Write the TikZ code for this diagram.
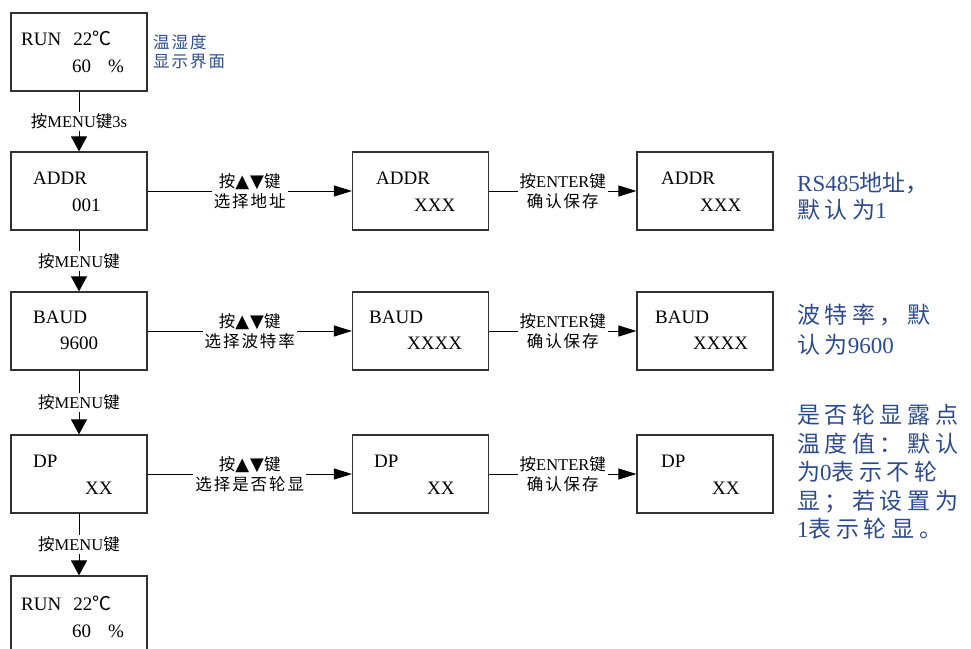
\documentclass[tikz,border=0pt]{standalone}
\usepackage{fontspec}
\setmainfont{Liberation Serif}
\newfontfamily\cjks{Noto Sans CJK SC}[LetterSpace=12]
\newfontfamily\cjkb{Noto Sans CJK SC}[LetterSpace=20]
\newfontfamily\cjkn{Noto Sans CJK SC}
\newfontfamily\symf{DejaVu Sans}
\usetikzlibrary{arrows.meta}
\definecolor{lblblue}{RGB}{45,75,140}
\definecolor{boxgray}{RGB}{50,50,50}
\newcommand\zs[1]{{\cjks #1}}
\newcommand\zb[1]{{\cjkb #1}}
\newcommand\zn[1]{{\cjkn #1}}
\newcommand\tri{{\symf\fontsize{18}{20.5}\selectfont ▲\kern1pt▼}}
\begin{document}
\begin{tikzpicture}[x=1pt,y=-1pt,
  screen/.style={draw=boxgray, line width=1.2pt, minimum width=136pt, minimum height=78pt, inner sep=0pt},
  boxtxt/.style={anchor=base west, inner sep=0pt, font=\fontsize{19}{19}\selectfont},
  flow/.style={draw=black, line width=1pt},
  downarrow/.style={-{Triangle[length=15pt,width=16pt]}},
  rarrow/.style={-{Triangle[length=18pt,width=11pt]}},
  lab/.style={fill=white, inner sep=2pt, align=center, font=\fontsize{16.5}{20.5}\selectfont},
  note/.style={anchor=base west, inner sep=0pt, text=lblblue, font=\fontsize{23}{23}\selectfont},
  smallnote/.style={anchor=base west, inner sep=0pt, text=lblblue, font=\fontsize{16.5}{16.5}\selectfont}
]
\useasboundingbox (0,0) rectangle (971,648);

% screens
\node[screen] (run1) at (79,52) {};
\node[screen] (addr1) at (79,191) {};
\node[screen] (addr2) at (420.5,191) {};
\node[screen] (addr3) at (705,191) {};
\node[screen] (baud1) at (79,331) {};
\node[screen] (baud2) at (420.5,331) {};
\node[screen] (baud3) at (705,331) {};
\node[screen] (dp1) at (79,474) {};
\node[screen] (dp2) at (420.5,474) {};
\node[screen] (dp3) at (705,474) {};
\node[screen] (run2) at (79,615) {};

% screen texts
\node[boxtxt] (t1a) at (21,45) {RUN\hspace{12pt}22\zn{℃}};
\node[boxtxt] (t1b) at (72,72) {60\hspace{17pt}\%};
\node[boxtxt] (t2a) at (33,184.5) {ADDR};
\node[boxtxt] (t2b) at (72,211) {001};
\node[boxtxt] (t3a) at (376,184.5) {ADDR};
\node[boxtxt] (t3b) at (414,211) {XXX};
\node[boxtxt] (t4a) at (661,184.5) {ADDR};
\node[boxtxt] (t4b) at (700,211) {XXX};
\node[boxtxt] (t5a) at (33,323.5) {BAUD};
\node[boxtxt] (t5b) at (60,349.5) {9600};
\node[boxtxt] (t6a) at (369,323.5) {BAUD};
\node[boxtxt] (t6b) at (407,349.5) {XXXX};
\node[boxtxt] (t7a) at (655,323.5) {BAUD};
\node[boxtxt] (t7b) at (693,349.5) {XXXX};
\node[boxtxt] (t8a) at (33,467.5) {DP};
\node[boxtxt] (t8b) at (85,494.5) {XX};
\node[boxtxt] (t9a) at (374,467.5) {DP};
\node[boxtxt] (t9b) at (427,494.5) {XX};
\node[boxtxt] (t10a) at (661,467.5) {DP};
\node[boxtxt] (t10b) at (712,494.5) {XX};
\node[boxtxt] (t11a) at (21,610) {RUN\hspace{12pt}22\zn{℃}};
\node[boxtxt] (t11b) at (72,637) {60\hspace{17pt}\%};

% vertical connectors
\draw[flow,downarrow] (run1.south) -- node[lab] {\zn{按}MENU\zn{键}3s} (addr1.north);
\draw[flow,downarrow] (addr1.south) -- node[lab] {\zn{按}MENU\zn{键}} (baud1.north);
\draw[flow,downarrow] (baud1.south) -- node[lab] {\zn{按}MENU\zn{键}} (dp1.north);
\draw[flow,downarrow] (dp1.south) -- node[lab] {\zn{按}MENU\zn{键}} (run2.north);

% horizontal connectors
\draw[flow,rarrow] (addr1.east) -- node[lab] {\zn{按}\tri\zn{键}\\\zs{选择地址}} (addr2.west);
\draw[flow,rarrow] (addr2.east) -- node[lab] {\zn{按}ENTER\zn{键}\\\zs{确认保存}} (addr3.west);
\draw[flow,rarrow] (baud1.east) -- node[lab] {\zn{按}\tri\zn{键}\\\zs{选择波特率}} (baud2.west);
\draw[flow,rarrow] (baud2.east) -- node[lab] {\zn{按}ENTER\zn{键}\\\zs{确认保存}} (baud3.west);
\draw[flow,rarrow] (dp1.east) -- node[lab] {\zn{按}\tri\zn{键}\\\zs{选择是否轮显}} (dp2.west);
\draw[flow,rarrow] (dp2.east) -- node[lab] {\zn{按}ENTER\zn{键}\\\zs{确认保存}} (dp3.west);

% blue notes
\node[smallnote] (n0a) at (153,48) {\zs{温湿度}};
\node[smallnote] (n0b) at (153,67) {\zs{显示界面}};
\node[note] (n1a) at (797,191.5) {RS485\zn{地址，}};
\node[note] (n1b) at (797,218.5) {\zb{默认为}1};
\node[note] (n2a) at (797,323.5) {\zb{波特率，默}};
\node[note] (n2b) at (797,353.5) {\zb{认为}9600};
\node[note] (n3a) at (797,423.5) {\zb{是否轮显露点}};
\node[note] (n3b) at (797,452) {\zb{温度值：默认}};
\node[note] (n3c) at (797,480.5) {\zb{为}0\zb{表示不轮}};
\node[note] (n3d) at (797,509) {\zb{显；若设置为}};
\node[note] (n3e) at (797,537.5) {1\zb{表示轮显。}};
\end{tikzpicture}
\end{document}
